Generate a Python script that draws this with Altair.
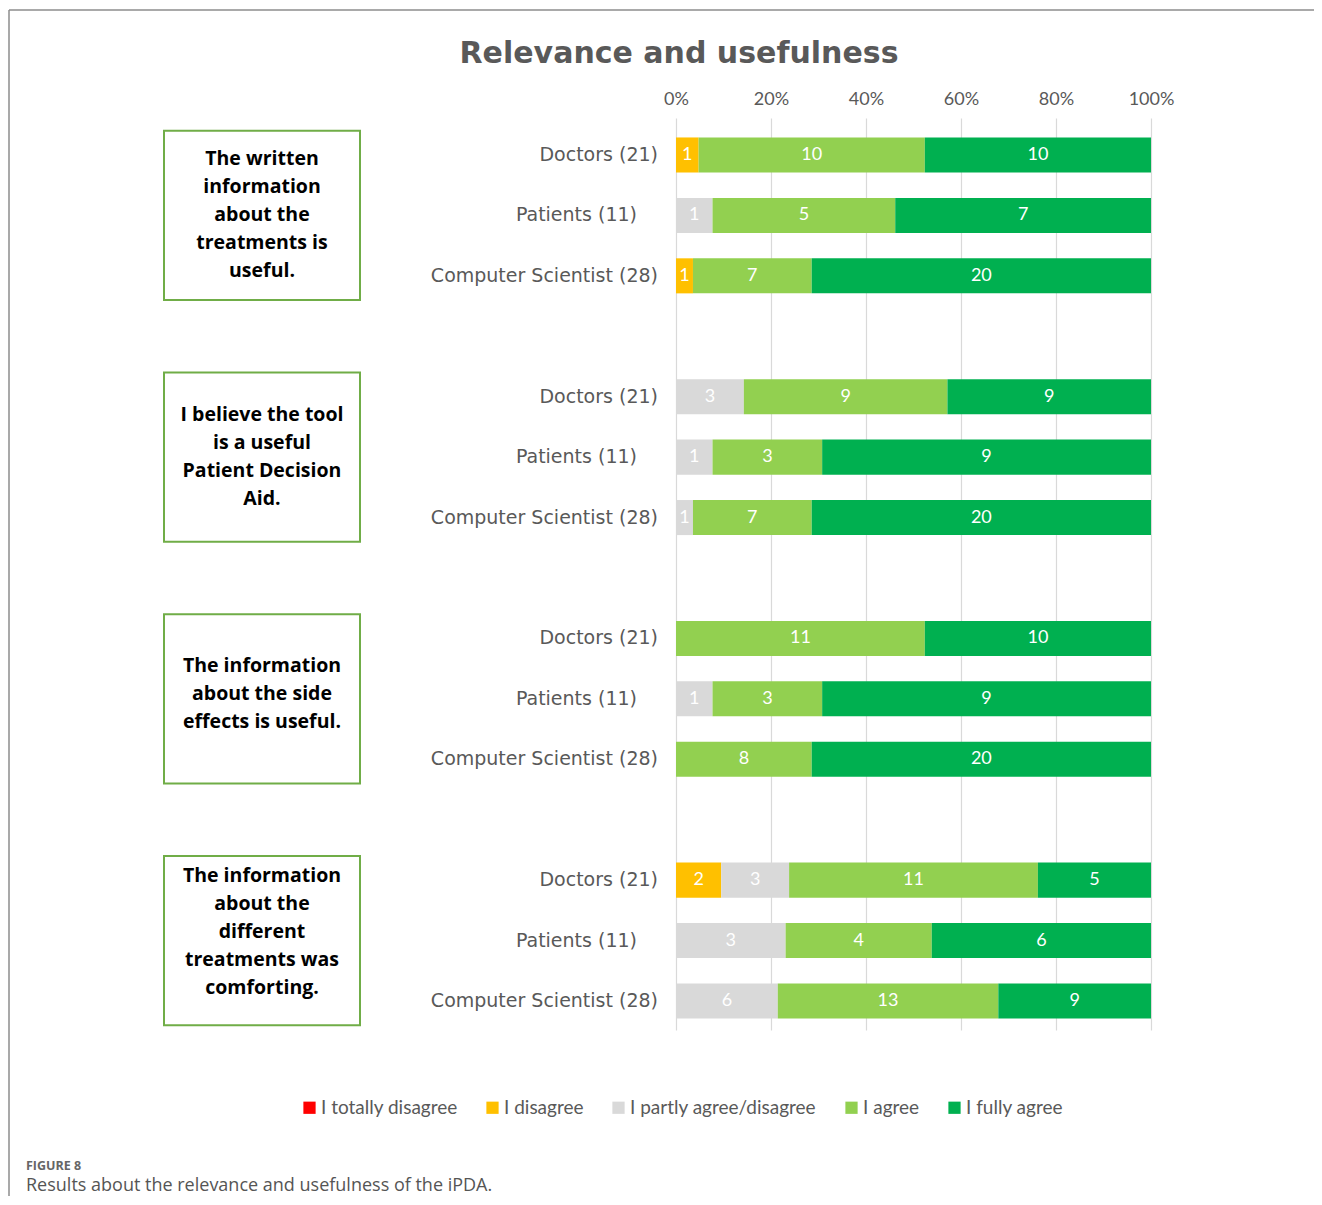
import altair as alt
import pandas as pd

title_text = "Relevance and usefulness"
statements = [
    ["The written", "information", "about the", "treatments is", "useful."],
    ["I believe the tool", "is a useful", "Patient Decision", "Aid."],
    ["The information", "about the side", "effects is useful."],
    ["The information", "about the", "different", "treatments was", "comforting."],
]
respondents = ["Doctors (21)", "Patients (11)", "Computer Scientist (28)"]
responses = ["I totally disagree", "I disagree", "I partly agree/disagree", "I agree", "I fully agree"]
colors = ["#ff0000", "#ffc000", "#d9d9d9", "#92d050", "#00b050"]
q1_counts = [[0, 1, 0, 10, 10], [0, 0, 1, 5, 7], [0, 1, 0, 7, 20]]
q2_counts = [[0, 0, 3, 9, 9], [0, 0, 1, 3, 9], [0, 0, 1, 7, 20]]
q3_counts = [[0, 0, 0, 11, 10], [0, 0, 1, 3, 9], [0, 0, 0, 8, 20]]
q4_counts = [[0, 2, 3, 11, 5], [0, 0, 3, 4, 6], [0, 0, 6, 13, 9]]
x_ticks = [0, 0.2, 0.4, 0.6, 0.8, 1.0]
caption_label = "FIGURE 8"
caption_text = "Results about the relevance and usefulness of the iPDA."

all_counts = [q1_counts, q2_counts, q3_counts, q4_counts]

# layout constants (pixels / slots)
PLOT_W = 475
PLOT_H = 912
SLOT_PX = 60.43
HALF_BAR = 0.29
LINE_PX = 28
TEXT_SHIFT_PX = [0, 0, -5, -9]
GREY = "#595959"

bar_rows, row_rows, box_rows, line_rows = [], [], [], []
for g, qc in enumerate(all_counts):
    mid = 4 * g + 1
    box_rows.append({"y0": mid - 1.4, "y1": mid + 1.4})
    n = len(statements[g])
    for i, line in enumerate(statements[g]):
        off_px = (i - (n - 1) / 2) * LINE_PX + TEXT_SHIFT_PX[g]
        line_rows.append({"line": line, "slot": mid + off_px / SLOT_PX})
    for r, counts in enumerate(qc):
        slot = 4 * g + r
        total = sum(counts)
        row_rows.append({"respondent": respondents[r], "slot": slot})
        cum = 0
        for k, c in enumerate(counts):
            if c > 0:
                x0 = cum / total
                x1 = (cum + c) / total
                bar_rows.append({"respondent": respondents[r], "response": responses[k],
                                 "count": c, "x0": x0, "x1": x1, "xm": (x0 + x1) / 2,
                                 "slot": slot, "y0": slot - HALF_BAR, "y1": slot + HALF_BAR})
            cum += c

bar_df = pd.DataFrame(bar_rows)
row_df = pd.DataFrame(row_rows)
box_df = pd.DataFrame(box_rows)
line_df = pd.DataFrame(line_rows)
title_df = pd.DataFrame({"t": [title_text]})
cap1_df = pd.DataFrame({"t": [caption_label]})
cap2_df = pd.DataFrame({"t": [caption_text]})
one = pd.DataFrame({"a": [0]})

yscale = alt.Scale(domain=[-0.612, 14.48], nice=False, zero=False, reverse=True)
xscale = alt.Scale(domain=[0, 1], nice=False, zero=True)
x_axis = alt.Axis(orient="top", values=x_ticks, format=".0%", title=None,
                  domain=False, ticks=False, grid=True, gridColor="#d9d9d9",
                  gridWidth=1.2, labelFont="Lato", labelFontSize=18, labelFlush=False,
                  labelColor=GREY, labelPadding=10)

bars = alt.Chart(bar_df).mark_bar().encode(
    x=alt.X("x0:Q", scale=xscale, axis=x_axis),
    x2="x1:Q",
    y=alt.Y("y0:Q", scale=yscale, axis=None),
    y2="y1:Q",
    color=alt.Color("response:N", scale=alt.Scale(domain=responses, range=colors),
                    legend=alt.Legend(title=None, orient="none", legendX=-376, legendY=980,
                                      direction="horizontal", symbolType="square",
                                      symbolSize=150, symbolStrokeWidth=0,
                                      labelFont="Lato", labelFontSize=19, labelColor=GREY,
                                      labelLimit=0, columnPadding=25, labelOffset=2)),
)

bar_labels = alt.Chart(bar_df).mark_text(
    color="white", font="Lato", fontSize=18, align="center", baseline="middle"
).encode(
    x=alt.X("xm:Q", scale=xscale, axis=x_axis),
    y=alt.Y("slot:Q", scale=yscale, axis=None),
    text="count:Q",
)

row_labels_main = alt.Chart(row_df).transform_filter(
    alt.datum.respondent != respondents[1]
).mark_text(
    color=GREY, font="DejaVu Sans", fontSize=19, align="right", baseline="middle"
).encode(
    x=alt.value(-18),
    y=alt.Y("slot:Q", scale=yscale, axis=None),
    text="respondent:N",
)

row_labels_pat = alt.Chart(row_df).transform_filter(
    alt.datum.respondent == respondents[1]
).mark_text(
    color=GREY, font="DejaVu Sans", fontSize=19, align="right", baseline="middle"
).encode(
    x=alt.value(-39),
    y=alt.Y("slot:Q", scale=yscale, axis=None),
    text="respondent:N",
)

boxes = alt.Chart(box_df).mark_rect(fill="white", stroke="#70ad47", strokeWidth=2).encode(
    x=alt.value(-512), x2=alt.value(-316),
    y=alt.Y("y0:Q", scale=yscale, axis=None), y2="y1:Q",
)

box_text = alt.Chart(line_df).mark_text(
    color="black", font="Open Sans", fontWeight="bold", fontSize=19.5, align="center",
    baseline="middle"
).encode(
    x=alt.value(-414),
    y=alt.Y("slot:Q", scale=yscale, axis=None),
    text="line:N",
)

title = alt.Chart(title_df).mark_text(
    color=GREY, font="DejaVu Sans", fontWeight="bold", fontSize=30,
    align="center", baseline="alphabetic"
).encode(x=alt.value(3), y=alt.value(-55), text="t:N")

cap1 = alt.Chart(cap1_df).mark_text(
    color="#666666", font="Open Sans", fontWeight="bold", fontSize=12.5,
    align="left", baseline="middle"
).encode(x=alt.value(-650), y=alt.value(1048), text="t:N")

cap2 = alt.Chart(cap2_df).mark_text(
    color="#555555", font="Open Sans", fontSize=18,
    align="left", baseline="middle"
).encode(x=alt.value(-650), y=alt.value(1068), text="t:N")

frame_h = alt.Chart(one).mark_rule(color="#8c8c8c", strokeWidth=1.5).encode(
    x=alt.value(-667), x2=alt.value(700), y=alt.value(-108)
)
frame_v = alt.Chart(one).mark_rule(color="#8c8c8c", strokeWidth=1.5).encode(
    x=alt.value(-667), y=alt.value(-108), y2=alt.value(1200)
)

chart = alt.layer(
    frame_h, frame_v, boxes, box_text, bars, bar_labels, row_labels_main, row_labels_pat,
    title, cap1, cap2
).properties(
    width=PLOT_W, height=PLOT_H,
    padding={"left": 668, "top": 110, "right": 163, "bottom": 166},
    autosize=alt.AutoSizeParams(type="none"),
).configure_view(stroke=None)

chart.save("out.html", embed_options={"renderer": "svg", "actions": False})
